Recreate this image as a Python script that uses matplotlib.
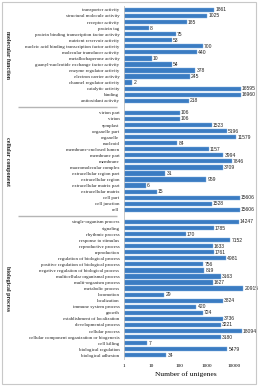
import matplotlib
matplotlib.use("Agg")
import matplotlib.pyplot as plt
import matplotlib.transforms as mtransforms
from matplotlib.patches import Rectangle
from matplotlib.ticker import FixedLocator, FixedFormatter

# GO categories, top to bottom
mf_terms = ["transporter activity", "structural molecule activity", "receptor activity",
            "protein tag", "protein binding transcription factor activity",
            "nutrient reservoir activity", "nucleic acid binding transcription factor activity",
            "molecular transducer activity", "metallochaperone activity",
            "guanyl-nucleotide exchange factor activity", "enzyme regulator activity",
            "electron carrier activity", "channel regulator activity", "catalytic activity",
            "binding", "antioxidant activity"]
mf_counts = [1861, 1025, 185, 8, 75, 53, 700, 440, 10, 54, 378, 245, 2, 16595, 16960, 218]

cc_terms = ["virion part", "virion", "symplast", "organelle part", "organelle", "nucleoid",
            "membrane-enclosed lumen", "membrane part", "membrane", "macromolecular complex",
            "extracellular region part", "extracellular region", "extracellular matrix part",
            "extracellular matrix", "cell part", "cell junction", "cell"]
cc_counts = [106, 106, 1523, 5196, 11579, 84, 1157, 3994, 7846, 3709, 31, 959, 6, 15,
             15606, 1528, 15606]

bp_terms = ["single-organism process", "signaling", "rhythmic process", "response to stimulus",
            "reproductive process", "reproduction", "regulation of biological process",
            "positive regulation of biological process", "negative regulation of biological process",
            "multicellular organismal process", "multi-organism process", "metabolic process",
            "locomotion", "localization", "immune system process", "growth",
            "establishment of localization", "developmental process", "cellular process",
            "cellular component organization or biogenesis", "cell killing",
            "biological regulation", "biological adhesion"]
bp_counts = [14247, 1785, 170, 7152, 1633, 1761, 4981, 756, 819, 3163, 1627, 20915, 29,
             3824, 420, 724, 3736, 3221, 18094, 3180, 7, 5479, 34]

groups = [("molecular function", mf_terms, mf_counts),
          ("cellular component", cc_terms, cc_counts),
          ("biological process", bp_terms, bp_counts)]

xticks = [1, 10, 100, 1000, 10000]
xticklabels = ["1", "10", "100", "1000", "10000"]

bar_color = "#3B7CC2"

fig = plt.figure(figsize=(2.59, 3.86), dpi=100)
ax = fig.add_axes([0.479, 0.0687, 0.477, 0.9166])
ax.set_xscale("log")

positions, labels, counts = [], [], []
group_mid, seps = [], []
slot = 0
for gi, (gname, terms, vals) in enumerate(groups):
    start = slot
    for t, v in zip(terms, vals):
        positions.append(slot)
        labels.append(t)
        counts.append(v)
        slot += 1
    group_mid.append((gname, (start + slot - 1) / 2))
    if gi < len(groups) - 1:
        seps.append(slot)
        slot += 1

ax.barh(positions, counts, height=0.7, color=bar_color, edgecolor="#7FAEE0", linewidth=0.3)

for p, v in zip(positions, counts):
    ax.annotate(str(v), (v, p), xytext=(0.8, 0), textcoords="offset points",
                va="center", ha="left", fontsize=3.6, family="Liberation Sans",
                color="#222222", annotation_clip=False)

ax.set_xlim(1, 30000)
ax.set_ylim(slot - 1 + 0.7, -0.7)
ax.set_yticks(positions)
ax.set_yticklabels(labels, fontsize=3.5, family="Liberation Serif", color="#222222")
ax.xaxis.set_major_locator(FixedLocator(xticks))
ax.xaxis.set_major_formatter(FixedFormatter(xticklabels))
ax.xaxis.set_minor_locator(FixedLocator([]))
ax.tick_params(axis="x", length=0, labelsize=3.8, pad=3.5)
ax.tick_params(axis="y", length=0, pad=3.3)
for lab in ax.get_xticklabels():
    lab.set_family("Liberation Serif")
ax.set_xlabel("Number of unigenes", fontsize=5.4, family="Liberation Serif", labelpad=2)

for s in ["top", "right", "bottom"]:
    ax.spines[s].set_visible(False)
ax.spines["left"].set_color("#c0c0c0")
ax.spines["left"].set_linewidth(0.6)

# grey separators in the label area
trans = mtransforms.blended_transform_factory(ax.transAxes, ax.transData)
for s in seps:
    ax.plot([-0.86, -0.055], [s, s], transform=trans, color="#b5b5b5", lw=1.0,
            clip_on=False, solid_capstyle="butt")

# group names, rotated
ftrans = mtransforms.blended_transform_factory(fig.transFigure, ax.transData)
for gname, mid in group_mid:
    ax.text(0.028, mid, gname, transform=ftrans, rotation=270, ha="center", va="center",
            fontsize=4.3, family="Liberation Serif", fontweight="bold", color="#222222")

# outer frame
fig.patches.append(Rectangle((0.006, 0.004), 0.984, 0.99, transform=fig.transFigure,
                             fill=False, edgecolor="#c8c8c8", lw=0.8))

fig.savefig("out.png", dpi=100)
